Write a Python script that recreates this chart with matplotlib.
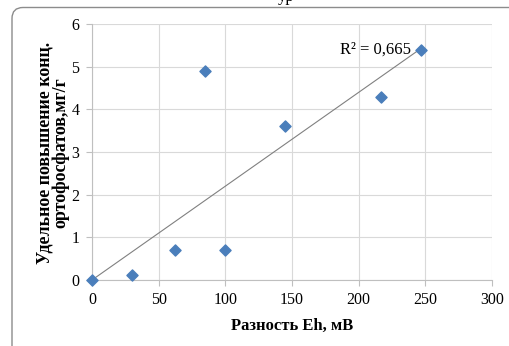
import numpy as np
import matplotlib
matplotlib.use("Agg")
import matplotlib.pyplot as plt
from matplotlib.patches import FancyBboxPatch
from matplotlib.transforms import IdentityTransform

# data
eh_diff = [0, 30, 62, 85, 100, 145, 217, 247]
phosphate = [0, 0.12, 0.7, 4.9, 0.7, 3.6, 4.3, 5.4]
r2_label = "R² = 0,665"
x_ticks = [0, 50, 100, 150, 200, 250, 300]
y_ticks = [0, 1, 2, 3, 4, 5, 6]

plt.rcParams['font.family'] = ['Liberation Serif', 'DejaVu Serif']

fig = plt.figure(figsize=(5.1, 3.46), dpi=100)
ax = fig.add_axes([92 / 510, 1 - 280 / 346, 400 / 510, 256 / 346])

# linear trend through the origin (as Excel does with intercept = 0)
x = np.array(eh_diff, dtype=float)
y = np.array(phosphate, dtype=float)
slope = np.sum(x * y) / np.sum(x * x)
xl = np.array([x.min(), x.max()])
ax.plot(xl, slope * xl, color="#808080", lw=0.8, zorder=2)

ax.scatter(eh_diff, phosphate, marker="D", s=32, color="#4a7ebb",
           edgecolor="#4a7ebb", zorder=3, clip_on=False)

ax.text(239, 5.39, r2_label, fontsize=12, ha="right", va="center")

ax.set_xlim(0, 300)
ax.set_ylim(0, 6)
ax.set_xticks(x_ticks)
ax.set_yticks(y_ticks)
ax.tick_params(labelsize=11.5, length=4, color="#bfbfbf", width=0.8, pad=5)
ax.grid(True, color="#d9d9d9", lw=0.8)
ax.set_axisbelow(True)
for s in ["top", "right"]:
    ax.spines[s].set_visible(False)
for s in ["left", "bottom"]:
    ax.spines[s].set_color("#bfbfbf")
    ax.spines[s].set_linewidth(0.8)

ax.set_xlabel("Разность Eh, мВ", fontsize=12, fontweight="bold", labelpad=7)

fig.text(53 / 510, 1 - 153 / 346, "Удельное повышение конц.\nортофосфатов,мг/г",
         fontsize=13, fontweight="bold", rotation=90, ha="center", va="center",
         multialignment="center", linespacing=0.85)

# chart frame with rounded corner, running off the image
frame = FancyBboxPatch((12, -30), 560, 346 - 7.5 + 30,
                       boxstyle="round,pad=0,rounding_size=11",
                       transform=IdentityTransform(), fill=False,
                       edgecolor="#8c8c8c", lw=1.0)
fig.patches.append(frame)

# clipped caption above the chart
fig.text(286 / 510, 1 - 1 / 346, "ур", fontsize=12, ha="center", va="baseline")

fig.savefig("out.png", dpi=100)
